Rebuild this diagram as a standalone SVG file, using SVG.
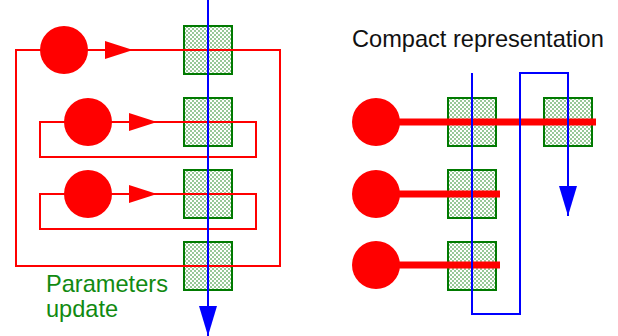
<svg xmlns="http://www.w3.org/2000/svg" width="618" height="336" viewBox="0 0 618 336">
  <defs>
    <pattern id="checker" width="4" height="4" patternUnits="userSpaceOnUse">
      <rect width="4" height="4" fill="#ffffff"/>
      <rect width="2" height="2" fill="#98c898"/>
      <rect x="2" y="2" width="2" height="2" fill="#98c898"/>
    </pattern>
    <marker id="redHead" markerWidth="28" markerHeight="18" refX="28" refY="9" orient="auto" markerUnits="userSpaceOnUse">
      <path d="M0,0 L28,9 L0,18 Z" fill="#ff0000"/>
    </marker>
    <marker id="blueHead" markerWidth="30" markerHeight="18" refX="30" refY="9" orient="auto" markerUnits="userSpaceOnUse">
      <path d="M0,0 L30,9 L0,18 Z" fill="#0000ff"/>
    </marker>
  </defs>
  <style>
    .cell { fill: url(#checker); stroke: #007a00; stroke-width: 2; }
    .neuron { fill: #ff0000; }
    .loop { fill: none; stroke: #ff0000; stroke-width: 2; }
    .bar { fill: none; stroke: #ff0000; stroke-width: 7; }
    .flow { fill: none; stroke: #0000ff; stroke-width: 2; }
    .label { font-family: "Liberation Sans", Arial, sans-serif; font-size: 23.6px; }
  </style>

  <rect width="618" height="336" fill="#ffffff"/>

  <!-- left: unrolled cells -->
  <g id="cell-l1"><rect class="cell" x="184" y="26" width="48" height="48"/></g>
  <g id="cell-l2"><rect class="cell" x="184" y="98" width="48" height="48"/></g>
  <g id="cell-l3"><rect class="cell" x="184" y="170" width="48" height="48"/></g>
  <g id="cell-l4"><rect class="cell" x="184" y="242" width="48" height="48"/></g>

  <!-- right: compact cells -->
  <g id="cell-r1"><rect class="cell" x="448" y="98" width="48" height="48"/></g>
  <g id="cell-r2"><rect class="cell" x="544" y="98" width="48" height="48"/></g>
  <g id="cell-r3"><rect class="cell" x="448" y="170" width="48" height="48"/></g>
  <g id="cell-r4"><rect class="cell" x="448" y="242" width="48" height="48"/></g>

  <g id="connectors">
    <!-- feedback loops -->
    <rect class="loop" x="16" y="50" width="264" height="216"/>
    <rect class="loop" x="40" y="122" width="216" height="35"/>
    <rect class="loop" x="40" y="194" width="216" height="35"/>
    <path class="loop" d="M64,50 H133" marker-end="url(#redHead)"/>
    <path class="loop" d="M88,122 H157" marker-end="url(#redHead)"/>
    <path class="loop" d="M88,194 H157" marker-end="url(#redHead)"/>
    <!-- compact bars -->
    <path class="bar" d="M376,122 H596"/>
    <path class="bar" d="M376,194 H500"/>
    <path class="bar" d="M376,265 H500"/>
    <!-- data flow -->
    <path class="flow" d="M208,0 V336" marker-end="url(#blueHead)"/>
    <path class="flow" d="M472,73 V314 H520 V73 H568 V216" marker-end="url(#blueHead)"/>
  </g>

  <g id="neuron-l1"><circle class="neuron" cx="64" cy="50" r="24"/></g>
  <g id="neuron-l2"><circle class="neuron" cx="88" cy="122" r="24"/></g>
  <g id="neuron-l3"><circle class="neuron" cx="88" cy="194" r="24"/></g>
  <g id="neuron-r1"><circle class="neuron" cx="376" cy="122" r="24"/></g>
  <g id="neuron-r2"><circle class="neuron" cx="376" cy="194" r="24"/></g>
  <g id="neuron-r3"><circle class="neuron" cx="376" cy="265" r="24"/></g>

  <g id="label-update">
    <text class="label" fill="#118a11" x="46" y="292">Parameters</text>
    <text class="label" fill="#118a11" x="46" y="317">update</text>
  </g>
  <g id="label-compact">
    <text class="label" fill="#111111" x="352" y="47">Compact representation</text>
  </g>
</svg>
